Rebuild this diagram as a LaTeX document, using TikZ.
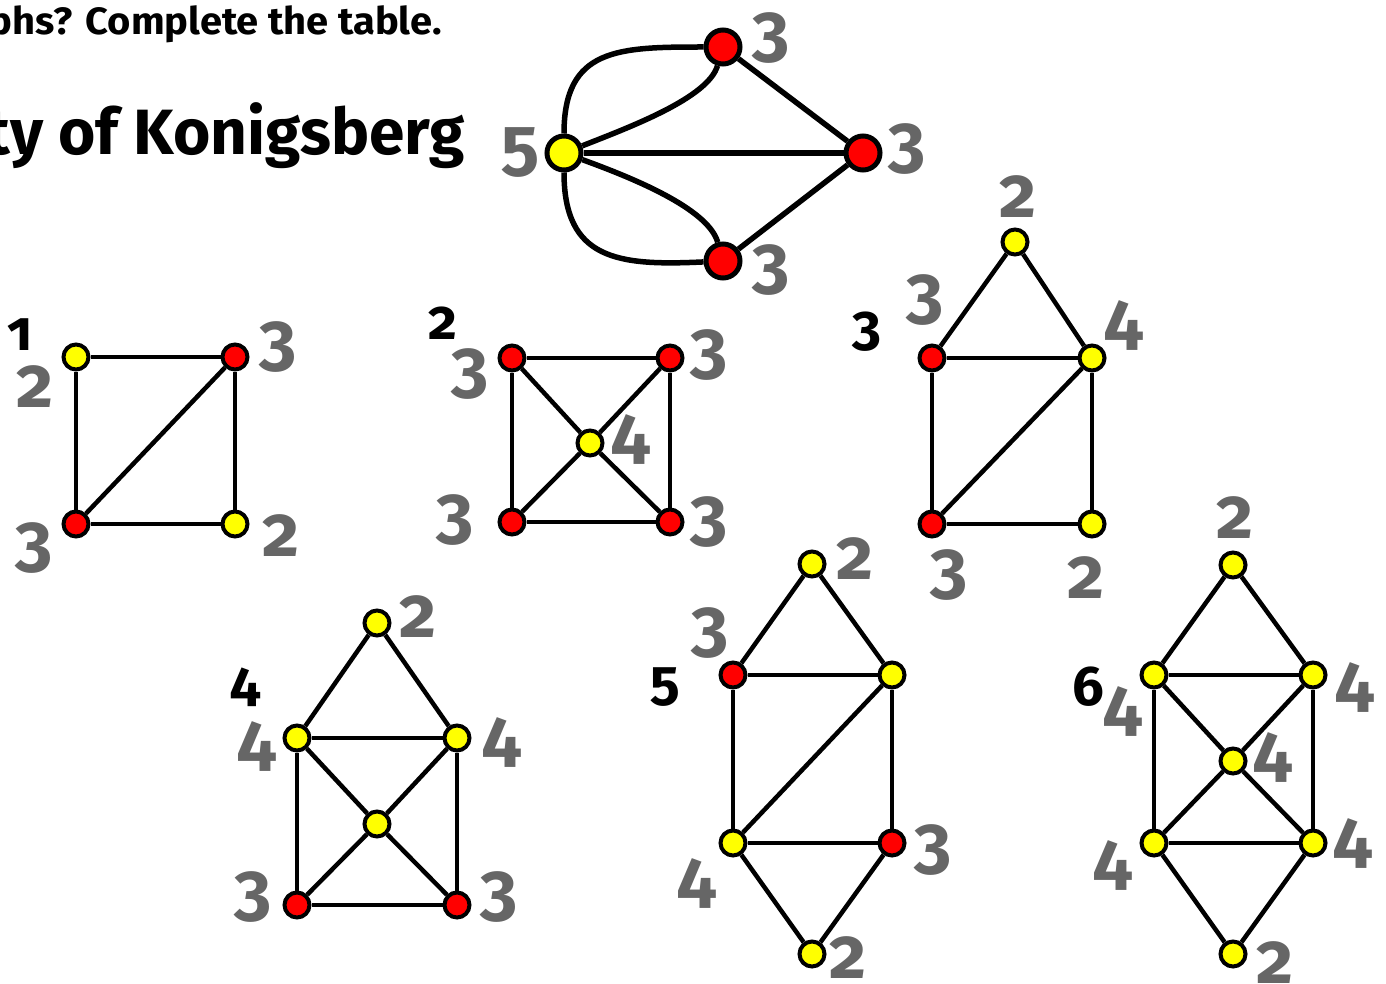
\documentclass[tikz,border=0pt]{standalone}
\usepackage{fontspec}
\setmainfont{Fira Sans}[Numbers=OldStyle]
\usetikzlibrary{backgrounds}
\definecolor{degGray}{HTML}{666666}
\definecolor{oddRed}{HTML}{FF0000}
\definecolor{evenYellow}{HTML}{FFFF00}
\newcommand\degfont{\bfseries\fontsize{72}{72}\selectfont}
\newcommand\numfont{\bfseries\fontsize{56}{56}\selectfont}
\tikzset{
  vert/.style={circle, draw=black, line width=4pt, minimum size=25pt, inner sep=0pt},
  oddv/.style={vert, fill=oddRed},
  evenv/.style={vert, fill=evenYellow},
  bigv/.style={line width=5pt, minimum size=34pt},
  link/.style={line width=4.5pt},
  biglink/.style={line width=5.5pt},
  deg/.style={text=degGray, font=\degfont, inner sep=0pt},
  gnum/.style={font=\numfont, inner sep=0pt}
}

\begin{document}
\begin{tikzpicture}[x=1pt,y=-1pt]
  \useasboundingbox (0,0) rectangle (1386,984);
  \clip (0,0) rectangle (1386,984);

  % headings, cut at the left edge
  \node[font=\bfseries\fontsize{38}{38}\selectfont\addfontfeatures{FakeStretch=1.05}, anchor=base east, inner sep=0pt] (task) at (442,35) {phs? Complete the table.};
  \node[font=\bfseries\fontsize{64}{64}\selectfont, anchor=base east, inner sep=0pt] (city) at (465,155) {ty of Konigsberg};

  % Konigsberg multigraph
  \node[oddv,bigv] (kA) at (723,47) {};
  \node[oddv,bigv] (kB) at (863,153) {};
  \node[oddv,bigv] (kC) at (723,261) {};
  \node[evenv,bigv] (kD) at (564,153) {};
  \node[deg] (kA-d) at (771,38) {3};
  \node[deg] (kB-d) at (907,149) {3};
  \node[deg] (kC-d) at (771,270) {3};
  \node[deg] (kD-d) at (520,153) {5};
  \begin{scope}[on background layer]
    \draw[biglink] (kD) .. controls (564,48) and (618,47) .. (kA);
    \draw[biglink] (kD) .. controls (630,127) and (708,98) .. (kA);
    \draw[biglink] (kD) .. controls (564,260) and (618,266) .. (kC);
    \draw[biglink] (kD) .. controls (630,177) and (708,208) .. (kC);
    \draw[biglink] (kD) -- (kB);
    \draw[biglink] (kA) -- (kB) -- (kC);
  \end{scope}

  % graph 1
  \node[gnum] (n1) at (20,335) {1};
  \node[evenv] (g1a) at (76,357) {};
  \node[oddv] (g1b) at (235,357) {};
  \node[oddv] (g1c) at (76,524) {};
  \node[evenv] (g1d) at (235,524) {};
  \node[deg] (g1a-d) at (35,387) {2};
  \node[deg] (g1b-d) at (278,347) {3};
  \node[deg] (g1c-d) at (34,548) {3};
  \node[deg] (g1d-d) at (281,536) {2};
  \begin{scope}[on background layer]
    \draw[link] (g1a) -- (g1b) -- (g1d) -- (g1c) -- (g1a);
    \draw[link] (g1c) -- (g1b);
  \end{scope}

  % graph 2
  \node[gnum] (n2) at (443,323) {2};
  \node[oddv] (g2a) at (512,358) {};
  \node[oddv] (g2b) at (670,358) {};
  \node[evenv] (g2m) at (590,443) {};
  \node[oddv] (g2c) at (512,522) {};
  \node[oddv] (g2d) at (670,522) {};
  \node[deg] (g2a-d) at (470,374) {3};
  \node[deg] (g2b-d) at (709,355) {3};
  \node[deg] (g2m-d) at (631,440) {4};
  \node[deg] (g2c-d) at (455,520) {3};
  \node[deg] (g2d-d) at (709,522) {3};
  \begin{scope}[on background layer]
    \draw[link] (g2a) -- (g2b) -- (g2d) -- (g2c) -- (g2a);
    \draw[link] (g2a) -- (g2m) -- (g2d);
    \draw[link] (g2b) -- (g2m) -- (g2c);
  \end{scope}

  % graph 3
  \node[gnum] (n3) at (867,332) {3};
  \node[evenv] (g3t) at (1015,242) {};
  \node[oddv] (g3a) at (932,358) {};
  \node[evenv] (g3b) at (1092,358) {};
  \node[oddv] (g3c) at (932,524) {};
  \node[evenv] (g3d) at (1092,524) {};
  \node[deg] (g3t-d) at (1018,197) {2};
  \node[deg] (g3a-d) at (925,300) {3};
  \node[deg] (g3b-d) at (1124,326) {4};
  \node[deg] (g3c-d) at (949,575) {3};
  \node[deg] (g3d-d) at (1086,578) {2};
  \begin{scope}[on background layer]
    \draw[link] (g3a) -- (g3t) -- (g3b);
    \draw[link] (g3a) -- (g3b) -- (g3d) -- (g3c) -- (g3a);
    \draw[link] (g3c) -- (g3b);
  \end{scope}

  % graph 4
  \node[gnum] (n4) at (246,687) {4};
  \node[evenv] (g4t) at (377,623) {};
  \node[evenv] (g4a) at (297,738) {};
  \node[evenv] (g4b) at (457,738) {};
  \node[evenv] (g4m) at (377,824) {};
  \node[oddv] (g4c) at (297,905) {};
  \node[oddv] (g4d) at (457,905) {};
  \node[deg] (g4t-d) at (418,617) {2};
  \node[deg] (g4a-d) at (257,747) {4};
  \node[deg] (g4b-d) at (502,743) {4};
  \node[deg] (g4c-d) at (253,897) {3};
  \node[deg] (g4d-d) at (499,897) {3};
  \begin{scope}[on background layer]
    \draw[link] (g4a) -- (g4t) -- (g4b);
    \draw[link] (g4a) -- (g4b) -- (g4d) -- (g4c) -- (g4a);
    \draw[link] (g4a) -- (g4m) -- (g4d);
    \draw[link] (g4b) -- (g4m) -- (g4c);
  \end{scope}

  % graph 5
  \node[gnum] (n5) at (665,687) {5};
  \node[evenv] (g5t) at (812,564) {};
  \node[oddv] (g5a) at (733,675) {};
  \node[evenv] (g5b) at (892,675) {};
  \node[evenv] (g5c) at (733,843) {};
  \node[oddv] (g5d) at (892,843) {};
  \node[evenv] (g5u) at (812,954) {};
  \node[deg] (g5t-d) at (855,559) {2};
  \node[deg] (g5a-d) at (710,633) {3};
  \node[deg] (g5c-d) at (697,883) {4};
  \node[deg] (g5d-d) at (933,850) {3};
  \node[deg] (g5u-d) at (848,958) {2};
  \begin{scope}[on background layer]
    \draw[link] (g5a) -- (g5t) -- (g5b);
    \draw[link] (g5a) -- (g5b) -- (g5d) -- (g5c) -- (g5a);
    \draw[link] (g5c) -- (g5b);
    \draw[link] (g5c) -- (g5u) -- (g5d);
  \end{scope}

  % graph 6
  \node[gnum] (n6) at (1088,687) {6};
  \node[evenv] (g6t) at (1233,565) {};
  \node[evenv] (g6a) at (1154,675) {};
  \node[evenv] (g6b) at (1313,675) {};
  \node[evenv] (g6m) at (1233,761) {};
  \node[evenv] (g6c) at (1154,843) {};
  \node[evenv] (g6d) at (1313,843) {};
  \node[evenv] (g6u) at (1233,954) {};
  \node[deg] (g6t-d) at (1235,518) {2};
  \node[deg] (g6a-d) at (1123,712) {4};
  \node[deg] (g6b-d) at (1355,688) {4};
  \node[deg] (g6m-d) at (1273,758) {4};
  \node[deg] (g6c-d) at (1113,865) {4};
  \node[deg] (g6d-d) at (1353,843) {4};
  \node[deg] (g6u-d) at (1275,963) {2};
  \begin{scope}[on background layer]
    \draw[link] (g6a) -- (g6t) -- (g6b);
    \draw[link] (g6a) -- (g6b) -- (g6d) -- (g6c) -- (g6a);
    \draw[link] (g6a) -- (g6m) -- (g6d);
    \draw[link] (g6b) -- (g6m) -- (g6c);
    \draw[link] (g6c) -- (g6u) -- (g6d);
  \end{scope}
\end{tikzpicture}
\end{document}
